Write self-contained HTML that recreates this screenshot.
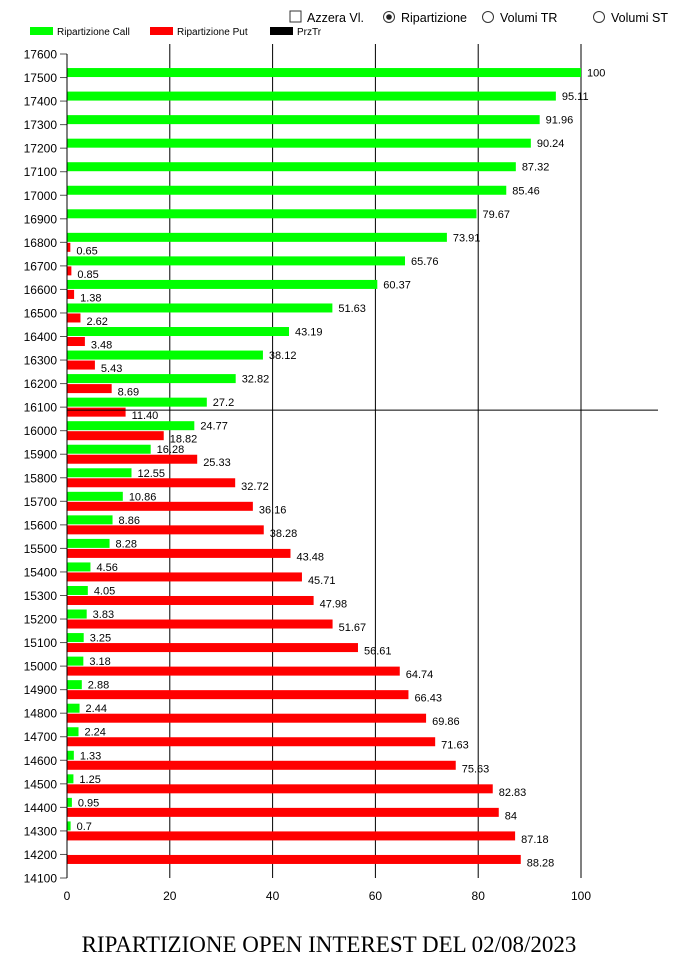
<!DOCTYPE html>
<html><head><meta charset="utf-8"><style>
body{margin:0;background:#fff;width:675px;height:959px;overflow:hidden;font-family:"Liberation Sans",sans-serif}
svg{display:block}
</style></head><body>
<svg id="chart" width="675" height="959" xmlns="http://www.w3.org/2000/svg">
<g font-size="12.5" fill="#000">
<rect x="290" y="11" width="11" height="11" fill="#fff" stroke="#333"/>
<text x="307" y="22">Azzera Vl.</text>
<circle cx="389" cy="17" r="5.5" fill="#fff" stroke="#333"/>
<circle cx="389" cy="17" r="2.8" fill="#222"/>
<text x="401" y="22">Ripartizione</text>
<circle cx="488" cy="17" r="5.5" fill="#fff" stroke="#333"/>
<text x="500" y="22">Volumi TR</text>
<circle cx="599" cy="17" r="5.5" fill="#fff" stroke="#333"/>
<text x="611" y="22">Volumi ST</text>
</g>
<g font-size="10">
<rect x="30" y="27" width="23" height="8" fill="#00ff00"/>
<text x="57" y="35">Ripartizione Call</text>
<rect x="150" y="27" width="23" height="8" fill="#ff0000"/>
<text x="177" y="35">Ripartizione Put</text>
<rect x="270" y="27" width="23" height="8" fill="#000"/>
<text x="297" y="35">PrzTr</text>
</g>
<g id="grid"></g><g id="bars"></g><g id="axes"></g>
<text x="329" y="952" text-anchor="middle" font-family="'Liberation Serif',serif" font-size="23">RIPARTIZIONE OPEN INTEREST DEL 02/08/2023</text>
</svg>
<script>
const strikes=[17500,17400,17300,17200,17100,17000,16900,16800,16700,16600,16500,16400,16300,16200,16100,16000,15900,15800,15700,15600,15500,15400,15300,15200,15100,15000,14900,14800,14700,14600,14500,14400,14300,14200];
const callValues=[100,95.11,91.96,90.24,87.32,85.46,79.67,73.91,65.76,60.37,51.63,43.19,38.12,32.82,27.2,24.77,16.28,12.55,10.86,8.86,8.28,4.56,4.05,3.83,3.25,3.18,2.88,2.44,2.24,1.33,1.25,0.95,0.7,null];
const putValues=[null,null,null,null,null,null,null,0.65,0.85,1.38,2.62,3.48,5.43,8.69,11.40,18.82,25.33,32.72,36.16,38.28,43.48,45.71,47.98,51.67,56.61,64.74,66.43,69.86,71.63,75.63,82.83,84,87.18,88.28];
const callLabels=["100","95.11","91.96","90.24","87.32","85.46","79.67","73.91","65.76","60.37","51.63","43.19","38.12","32.82","27.2","24.77","16.28","12.55","10.86","8.86","8.28","4.56","4.05","3.83","3.25","3.18","2.88","2.44","2.24","1.33","1.25","0.95","0.7",""];
const putLabels=["","","","","","","","0.65","0.85","1.38","2.62","3.48","5.43","8.69","11.40","18.82","25.33","32.72","36.16","38.28","43.48","45.71","47.98","51.67","56.61","64.74","66.43","69.86","71.63","75.63","82.83","84","87.18","88.28"];
const xTicks=[0,20,40,60,80,100];
const yTickLabels=[17600,17500,17400,17300,17200,17100,17000,16900,16800,16700,16600,16500,16400,16300,16200,16100,16000,15900,15800,15700,15600,15500,15400,15300,15200,15100,15000,14900,14800,14700,14600,14500,14400,14300,14200,14100];
const przTr=16100;
const NS="http://www.w3.org/2000/svg";
const X=v=>67+v*(581-67)/100;
const Y=s=>54+(17600-s)*(878-54)/3500;
function mk(tag,attrs,parent,txt){const e=document.createElementNS(NS,tag);for(const k in attrs)e.setAttribute(k,attrs[k]);if(txt!==undefined)e.textContent=txt;parent.appendChild(e);return e;}
const grid=document.getElementById('grid'),bars=document.getElementById('bars'),axes=document.getElementById('axes');
xTicks.forEach(t=>{
 if(t>0){const l=mk('line',{x1:X(t),x2:X(t),y1:44,y2:878,stroke:'#000','stroke-width':1},grid);
 
 }
 const tx=mk('text',{x:X(t),y:900,'text-anchor':'middle','font-size':12},axes,String(t));
 
 
});
yTickLabels.forEach(s=>{
 const l=mk('line',{x1:60,x2:67,y1:Y(s),y2:Y(s),stroke:'#555'},axes);
 
 
 const t=mk('text',{x:57,y:Y(s)+4.5,'text-anchor':'end','font-size':12},axes,String(s));
 
 
});
const ax=mk('line',{x1:67,x2:67,y1:54,y2:878,stroke:'#000'},axes);


strikes.forEach((s,i)=>{
 const y=Y(s);
 if(callValues[i]!==null){
  const r=mk('rect',{x:67,y:y-9.5,width:X(callValues[i])-67,height:9,fill:'#00ff00'},bars);
  
  
  const t=mk('text',{x:X(callValues[i])+6,y:y-1,'font-size':11},bars,callLabels[i]);
  
  
 }
 if(putValues[i]!==null){
  const r=mk('rect',{x:67,y:y+0.5,width:X(putValues[i])-67,height:9,fill:'#ff0000'},bars);
  
  
  const t=mk('text',{x:X(putValues[i])+6,y:y+12,'font-size':11},bars,putLabels[i]);
  
  
 }
});
const pl=mk('line',{x1:67,x2:658,y1:Y(przTr)+3,y2:Y(przTr)+3,stroke:'#000'},bars);


</script>
</body></html>
